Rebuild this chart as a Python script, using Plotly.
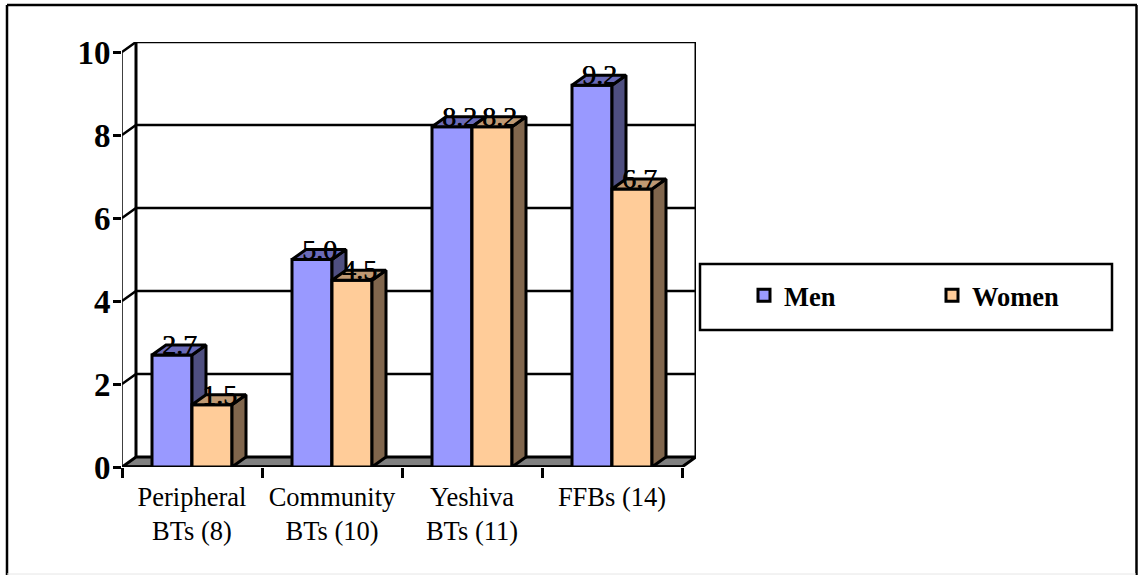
import plotly.graph_objects as go

categories = ["Peripheral<br>BTs (8)", "Community<br>BTs (10)", "Yeshiva<br>BTs (11)", "FFBs (14)"]
men = [2.7, 5.0, 8.2, 9.2]
women = [1.5, 4.5, 8.2, 6.7]
y_ticks = [0, 2, 4, 6, 8, 10]

SERIF = "Liberation Serif"
BAR_W = 40 / 140      # bar width in category units
DEPTH_X = 14 / 140    # oblique depth along x, in category units
DEPTH_Y = 10 / 41.5   # oblique depth along y, in value units
X_MIN, X_MAX = -0.5, 3.6
Y_MAX = 10 + DEPTH_Y

# Pixel frame of the plot area, used to place chrome in paper coordinates
W, H = 1138, 575
PL, PR, PT, PB = 122, 696, 42, 467


def px(x):
    return (x - PL) / (PR - PL)


def py(y):
    return (PB - y) / (PB - PT)


def faces(values, left_offset):
    """Side and top parallelograms of each bar, separated by gaps."""
    sx, sy, tx, ty = [], [], [], []
    for i, v in enumerate(values):
        l = i + left_offset
        r = l + BAR_W
        sx += [r, r + DEPTH_X, r + DEPTH_X, r, r, None]
        sy += [0, DEPTH_Y, v + DEPTH_Y, v, 0, None]
        tx += [l, l + DEPTH_X, r + DEPTH_X, r, l, None]
        ty += [v, v + DEPTH_Y, v + DEPTH_Y, v, v, None]
    return sx, sy, tx, ty


def poly(x, y, fill, xa, ya, width=3):
    return go.Scatter(x=x, y=y, mode="lines", fill="toself", fillcolor=fill,
                      line=dict(color="black", width=width), hoverinfo="skip",
                      showlegend=False, xaxis=xa, yaxis=ya, cliponaxis=False)


def wire(x, y, width=2):
    return go.Scatter(x=x, y=y, mode="lines", line=dict(color="black", width=width),
                      hoverinfo="skip", showlegend=False, xaxis="x", yaxis="y",
                      cliponaxis=False)


fig = go.Figure()

# Back wall, gridlines and floor
left_back, right_back = X_MIN + DEPTH_X, X_MAX
right_front = X_MAX - DEPTH_X
fig.add_trace(poly([X_MIN, left_back, right_back, right_front, X_MIN],
                   [0, DEPTH_Y, DEPTH_Y, 0, 0], "#808080", "x", "y"))
for t in y_ticks[1:]:
    fig.add_trace(wire([X_MIN, left_back, right_back], [t, t + DEPTH_Y, t + DEPTH_Y], 2.5))
fig.add_trace(wire([left_back, left_back], [DEPTH_Y, Y_MAX], 3))
fig.add_trace(wire([right_back, right_back], [DEPTH_Y, Y_MAX], 3))
fig.add_trace(wire([X_MIN, X_MIN], [0, 10], 1.5))
fig.add_trace(wire([X_MIN, right_front], [0, 0], 3.5))

# One overlaid layer per series so each series covers the one before it
series = [
    ("Men", men, -BAR_W, "#9999FF", "#4F4F80", "#6A6AB8", "x2", "y2"),
    ("Women", women, 0.0, "#FFCC99", "#80664D", "#BF9973", "x3", "y3"),
]
for name, vals, offset, front, side, top, xa, ya in series:
    sx, sy, tx, ty = faces(vals, offset)
    fig.add_trace(go.Bar(x=list(range(len(vals))), y=vals, name=name, width=BAR_W,
                         offset=offset, marker=dict(color=front, line=dict(color="black", width=3)),
                         xaxis=xa, yaxis=ya, hoverinfo="skip"))
    fig.add_trace(poly(sx, sy, side, xa, ya))
    fig.add_trace(poly(tx, ty, top, xa, ya))

# Value labels are annotations so they stay above every bar face
value_labels = [
    dict(x=i + offset + BAR_W / 2 + DEPTH_X / 2, y=v, xref="x", yref="y", text=f"{v:.1f}",
         showarrow=False, xanchor="center", yanchor="bottom", yshift=-7,
         font=dict(family=SERIF, size=28, color="black", shadow="0.6px 0 0 black"))
    for _, vals, offset, *_ in series for i, v in enumerate(vals)
]

hidden = dict(visible=False, fixedrange=True)
chrome = [
    # Outer frame
    dict(type="line", xref="paper", yref="paper", x0=px(7), x1=px(7), y0=py(5), y1=py(575),
         line=dict(color="black", width=2.5)),
    dict(type="line", xref="paper", yref="paper", x0=px(7), x1=px(1137), y0=py(5), y1=py(5),
         line=dict(color="black", width=2.5)),
    dict(type="line", xref="paper", yref="paper", x0=px(1136.5), x1=px(1136.5), y0=py(5), y1=py(575),
         line=dict(color="black", width=2.5)),
    dict(type="line", xref="paper", yref="paper", x0=px(7), x1=px(1136), y0=py(574), y1=py(574),
         line=dict(color="#E6E6E6", width=1)),
    # Legend box
    dict(type="rect", xref="paper", yref="paper", x0=px(700), x1=px(1112), y0=py(264), y1=py(330),
         line=dict(color="black", width=2.5), fillcolor="white", layer="below"),
]

fig.update_layout(
    width=W, height=H,
    margin=dict(l=PL, r=W - PR, t=PT, b=H - PB, pad=0, autoexpand=False),
    paper_bgcolor="white", plot_bgcolor="white",
    barmode="overlay",
    shapes=chrome,
    annotations=value_labels,
    xaxis=dict(range=[X_MIN, X_MAX], tickmode="array", tickvals=list(range(len(categories))),
               ticktext=categories, ticks="", showgrid=False, zeroline=False, showline=False,
               tickfont=dict(family=SERIF, size=26.5, color="black"), ticklabelstandoff=11,
               tickangle=0, fixedrange=True,
               minor=dict(tickmode="array", tickvals=[i - 0.5 for i in range(len(categories) + 1)],
                          ticks="outside", ticklen=10, tickwidth=2.5, tickcolor="black", showgrid=False)),
    yaxis=dict(range=[0, Y_MAX], tickmode="array", tickvals=y_ticks, ticks="outside", ticklen=8,
               tickwidth=2.5, tickcolor="black", showgrid=False, zeroline=False, showline=False,
               ticklabelstandoff=-4,
               tickfont=dict(family=SERIF, size=33, color="black", weight="bold"), fixedrange=True),
    xaxis2=dict(range=[X_MIN, X_MAX], overlaying="x", **hidden),
    yaxis2=dict(range=[0, Y_MAX], overlaying="y", **hidden),
    xaxis3=dict(range=[X_MIN, X_MAX], overlaying="x", **hidden),
    yaxis3=dict(range=[0, Y_MAX], overlaying="y", **hidden),
    showlegend=True,
    legend=dict(orientation="h", xref="paper", yref="paper", x=px(744), y=py(295.5), xanchor="left",
                yanchor="middle", entrywidth=143, entrywidthmode="pixels", bgcolor="rgba(0,0,0,0)",
                borderwidth=0, font=dict(family=SERIF, size=26.5, color="black", weight="bold")),
)

fig.write_html("out.html", config=dict(displayModeBar=False))
